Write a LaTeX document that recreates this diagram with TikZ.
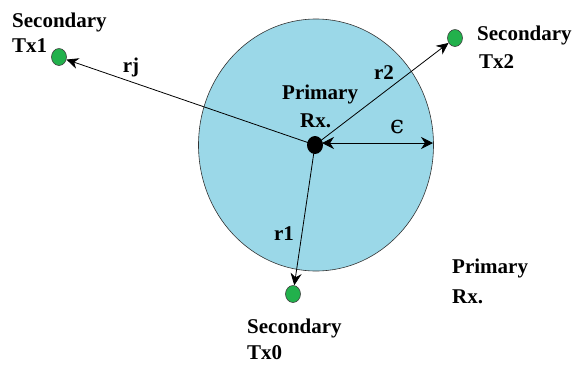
\documentclass[tikz,border=0pt]{standalone}
\usepackage{fontspec}
\setmainfont{Liberation Serif}
\newfontfamily\symfont{DejaVu Serif}
\usetikzlibrary{arrows.meta,shapes.geometric}
\definecolor{cellblue}{RGB}{155,216,232}
\definecolor{txgreen}{RGB}{34,177,76}
\tikzset{
  lbl/.style={font=\fontsize{21}{24}\selectfont\bfseries, inner sep=0pt, anchor=base west},
  txdot/.style={ellipse, fill=txgreen, draw=black!75, line width=0.6pt, minimum width=15pt, minimum height=17pt, inner sep=0pt},
  link/.style={line width=0.8pt, -{Stealth[length=12pt,width=11pt]}},
}
\begin{document}
\begin{tikzpicture}[x=1pt,y=-1pt]
\useasboundingbox (0,0) rectangle (576,365);
\node[ellipse, draw=black!80, fill=cellblue, line width=0.6pt, minimum width=235pt, minimum height=252pt, inner sep=0pt] (cell) at (316,145) {};
\node[ellipse, fill=black, minimum width=16pt, minimum height=18pt, inner sep=0pt] (prx) at (315,145) {};
\node[txdot] (tx1) at (59,57) {};
\node[txdot] (tx2) at (455,38) {};
\node[txdot] (tx0) at (293,294) {};
\coordinate (edge) at (433,143);
\coordinate (eorig) at (322,143);
\draw[link] (prx.center) -- (tx1);
\draw[link] (prx.center) -- (tx2);
\draw[link] (prx.center) -- (tx0);
\draw[line width=0.8pt, {Stealth[length=12pt,width=12pt]}-{Stealth[length=12pt,width=12pt]}] (eorig) -- (edge);
% labels
\node[lbl] (l1a) at (12,27) {Secondary};
\node[lbl] (l1b) at (12,52) {Tx1};
\node[lbl] (l2a) at (477,40) {Secondary};
\node[lbl] (l2b) at (479,68) {Tx2};
\node[lbl] (l0a) at (247,333) {Secondary};
\node[lbl] (l0b) at (247,359) {Tx0};
\node[lbl] (lpa) at (282,99) {Primary};
\node[lbl] (lpb) at (300,127) {Rx.};
\node[lbl] (lqa) at (452,273) {Primary};
\node[lbl] (lqb) at (452,303) {Rx.};
\node[lbl, anchor=center] (rj) at (131,67) {rj};
\node[lbl, anchor=center] (r2) at (384,73) {r2};
\node[lbl, anchor=center] (r1) at (284,234) {r1};
\node[font=\fontsize{25}{28}\selectfont\symfont, inner sep=0pt] (eps) at (397,127) {ϵ};
\end{tikzpicture}
\end{document}
